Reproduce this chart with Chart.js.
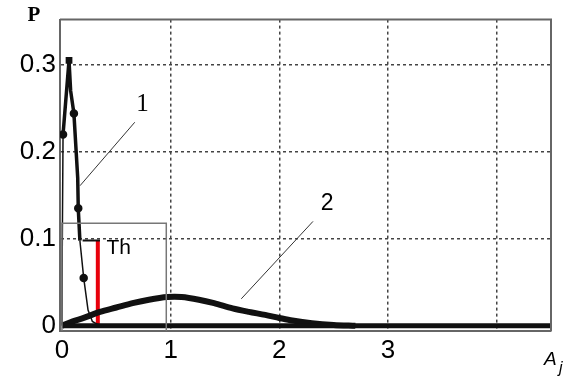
<!DOCTYPE html>
<html>
<head>
<meta charset="utf-8">
<script src="https://cdn.jsdelivr.net/npm/chart.js@4"></script>
<style>
  html, body { margin: 0; padding: 0; background: #fff; }
  #wrap { width: 571px; height: 383px; }
</style>
</head>
<body>
<div id="wrap"><canvas id="myChart"></canvas></div>
<script>
// curve 1 (narrow peak)
var c1X = [0, 0.003, 0.01, 0.065, 0.08, 0.11, 0.145, 0.15, 0.165, 0.2, 0.24, 0.28, 0.35];
var c1Y = [0, 0.09, 0.22, 0.305, 0.27, 0.244, 0.17, 0.135, 0.098, 0.055, 0.018, 0.005, 0];
var c1Dots = [2, 3, 5, 7, 9];
// curve 2 (wide hump)
var c2X = [0, 0.1, 0.2, 0.35, 0.5, 0.65, 0.8, 0.97, 1.1, 1.26, 1.4, 1.57, 1.72, 1.87, 2.0, 2.12, 2.3, 2.5, 2.7];
var c2Y = [0, 0.005, 0.009, 0.016, 0.021, 0.026, 0.03, 0.033, 0.033, 0.03, 0.026, 0.02, 0.016, 0.0125, 0.009, 0.006, 0.003, 0.001, 0];
// zero line
var baseX = [0, 4.5];
var baseY = [0, 0];
// threshold
var thX = 0.33;
var thY = 0.098;
// zoom box
var boxX = [0, 0, 0.96, 0.96];
var boxY = [-0.006, 0.118, 0.118, -0.006];
// leader lines
var lead1X = [0.67, 0.166], lead1Y = [0.234, 0.161];
var lead2X = [2.31, 1.65], lead2Y = [0.12, 0.031];
var xTicks = [0, 1, 2, 3, 4];
var yTicks = [0, 0.1, 0.2, 0.3];

function pts(xs, ys) {
  return xs.map(function (x, i) { return {x: x, y: ys[i]}; });
}

var ink = '#111';

var textPlugin = {
  id: 'texts',
  afterDatasetsDraw: function (chart) {
    var c = chart.ctx, a = chart.chartArea;
    var sx = chart.scales.x, sy = chart.scales.y;
    c.save();
    // frame
    c.strokeStyle = '#666';
    c.lineWidth = 2;
    c.beginPath();
    c.moveTo(a.left, a.top);
    c.lineTo(a.right, a.top);
    c.lineTo(a.right, a.bottom);
    c.stroke();
    c.fillStyle = '#000';
    c.textBaseline = 'middle';
    c.textAlign = 'center';
    c.font = 'bold 21px "Liberation Serif"';
    c.fillText('P', 34, 16);
    c.font = '25px "Liberation Serif"';
    c.fillText('1', sx.getPixelForValue(0.74), sy.getPixelForValue(0.254));
    c.font = '23px "Liberation Sans"';
    c.fillText('2', sx.getPixelForValue(2.44), sy.getPixelForValue(0.14));
    c.textAlign = 'left';
    c.font = '21px "Liberation Sans"';
    c.fillText('Th', sx.getPixelForValue(0.41), sy.getPixelForValue(0.089));
    c.font = 'italic 19px "Liberation Sans"';
    c.fillText('A', 544, 360);
    c.font = 'italic 16px "Liberation Sans"';
    c.fillText('j', 559, 369);
    c.restore();
  }
};

var ctx = document.getElementById('myChart').getContext('2d');
var myChart = new Chart(ctx, {
  type: 'scatter',
  data: {
    datasets: [{
        data: pts(boxX, boxY),
        showLine: true,
        borderColor: '#777',
        borderWidth: 1.5,
        pointRadius: 0
      }, {
        data: pts(lead1X, lead1Y),
        showLine: true,
        borderColor: '#333',
        borderWidth: 1,
        pointRadius: 0
      }, {
        data: pts(lead2X, lead2Y),
        showLine: true,
        borderColor: '#333',
        borderWidth: 1,
        pointRadius: 0
      }, {
        data: pts(baseX, baseY),
        showLine: true,
        borderColor: ink,
        borderWidth: 5,
        pointRadius: 0
      }, {
        data: pts(c2X, c2Y),
        showLine: true,
        borderColor: ink,
        borderWidth: 6,
        tension: 0.3,
        pointRadius: 0
      }, {
        data: pts(c1X, c1Y),
        showLine: true,
        borderColor: ink,
        backgroundColor: ink,
        borderWidth: 2.5,
        segment: {
          borderWidth: function (s) { return s.p0.parsed.y > 0.12 ? 3.5 : 1.5; }
        },
        pointRadius: c1X.map(function (v, i) { return c1Dots.indexOf(i) >= 0 ? 3 : 0; }),
        pointStyle: c1X.map(function (v, i) { return i === 3 ? 'rect' : 'circle'; })
      }, {
        data: [{x: 0.19, y: thY}, {x: thX + 0.02, y: thY}],
        showLine: true,
        borderColor: ink,
        borderWidth: 2,
        pointRadius: 0
      }, {
        data: [{x: thX, y: 0}, {x: thX, y: thY}],
        showLine: true,
        borderColor: '#e8000b',
        borderWidth: 4,
        pointRadius: 0
      }
    ]
  },
  options: {
    responsive: true,
    maintainAspectRatio: false,
    animation: false,
    layout: { padding: { left: 0, right: 20, top: 17, bottom: 0 } },
    plugins: {
      legend: { display: false },
      tooltip: { enabled: false }
    },
    scales: {
      x: {
        type: 'linear',
        min: -0.018,
        max: 4.5,
        afterBuildTicks: function (s) { s.ticks = xTicks.map(function (v) { return {value: v}; }); },
        afterFit: function (s) { s.height = 52; },
        ticks: {
          color: '#000',
          padding: 4,
          maxRotation: 0,
          font: { family: 'Liberation Sans', size: 26 },
          callback: function (v) { return v === 4 ? '' : String(v); }
        },
        grid: {
          drawTicks: false,
          color: function (c) { return c.tick && c.tick.value === 0 ? 'rgba(0,0,0,0)' : '#444'; },
          lineWidth: 1.5
        },
        border: { display: true, color: '#666', width: 2, dash: [3, 3] }
      },
      y: {
        type: 'linear',
        min: -0.006,
        max: 0.352,
        afterBuildTicks: function (s) { s.ticks = yTicks.map(function (v) { return {value: v}; }); },
        afterFit: function (s) { s.width = 60; },
        ticks: {
          color: '#000',
          padding: 4,
          font: { family: 'Liberation Sans', size: 26 },
          callback: function (v) { return v === 0 ? '0' : v.toFixed(1); }
        },
        grid: {
          drawTicks: false,
          color: function (c) { return c.tick && c.tick.value === 0 ? 'rgba(0,0,0,0)' : '#444'; },
          lineWidth: 1.5
        },
        border: { display: true, color: '#666', width: 2, dash: [3, 3] }
      }
    }
  },
  plugins: [textPlugin]
});
</script>
</body>
</html>
